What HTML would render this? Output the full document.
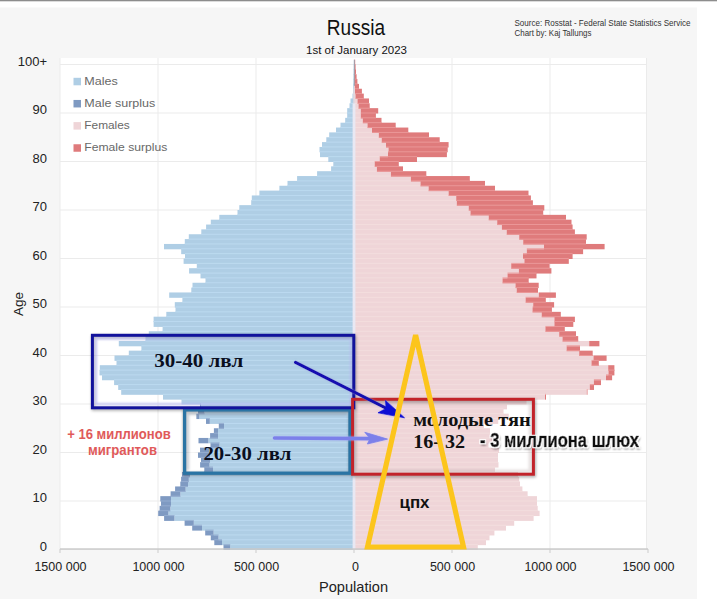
<!DOCTYPE html>
<html><head><meta charset="utf-8"><style>
html,body{margin:0;padding:0;background:#fff;width:717px;height:599px;overflow:hidden}
svg{display:block;font-family:"Liberation Sans",sans-serif}
.serif{font-family:"Liberation Serif",serif;font-weight:bold}
</style></head><body>
<svg width="717" height="599" viewBox="0 0 717 599">
<defs>
<filter id="soft" x="-10%" y="-10%" width="120%" height="130%"><feGaussianBlur stdDeviation="1.6"/></filter>
<filter id="soft2" x="-10%" y="-10%" width="120%" height="130%"><feGaussianBlur stdDeviation="1.2"/></filter>
<filter id="halo" x="-10%" y="-30%" width="120%" height="160%">
<feGaussianBlur in="SourceGraphic" stdDeviation="1.2" result="b"/>
<feColorMatrix in="b" type="matrix" values="1 0 0 0 0.3  0 1 0 0 0.3  0 0 1 0 0.3  0 0 0 0.6 0" result="c"/>
<feMerge><feMergeNode in="c"/><feMergeNode in="SourceGraphic"/></feMerge>
</filter>
<filter id="glow" x="-10%" y="-30%" width="120%" height="160%">
<feMorphology in="SourceAlpha" operator="dilate" radius="1.2" result="d"/>
<feFlood flood-color="#ffffff"/><feComposite in2="d" operator="in" result="w"/>
<feGaussianBlur in="SourceAlpha" stdDeviation="1.2" result="b"/>
<feOffset in="b" dx="1" dy="1.5" result="bo"/>
<feFlood flood-color="#000" flood-opacity="0.55"/><feComposite in2="bo" operator="in" result="s"/>
<feMerge><feMergeNode in="s"/><feMergeNode in="w"/><feMergeNode in="SourceGraphic"/></feMerge>
</filter>
</defs>
<rect x="0" y="0" width="717" height="1.3" fill="#8d8d8d"/>
<rect x="0" y="7.5" width="697" height="592" fill="#f6f6f6"/>
<rect x="60" y="58" width="587" height="491" fill="#ffffff"/>
<rect x="60" y="500.50" width="587" height="1" fill="#ebebeb"/>
<rect x="60" y="452.00" width="587" height="1" fill="#ebebeb"/>
<rect x="60" y="403.50" width="587" height="1" fill="#ebebeb"/>
<rect x="60" y="355.00" width="587" height="1" fill="#ebebeb"/>
<rect x="60" y="306.50" width="587" height="1" fill="#ebebeb"/>
<rect x="60" y="258.00" width="587" height="1" fill="#ebebeb"/>
<rect x="60" y="209.50" width="587" height="1" fill="#ebebeb"/>
<rect x="60" y="161.00" width="587" height="1" fill="#ebebeb"/>
<rect x="60" y="112.50" width="587" height="1" fill="#ebebeb"/>
<rect x="60" y="64.00" width="587" height="1" fill="#ebebeb"/>
<rect x="59.5" y="58" width="1" height="491" fill="#ebebeb"/>
<rect x="157.5" y="58" width="1" height="491" fill="#ebebeb"/>
<rect x="255.5" y="58" width="1" height="491" fill="#ebebeb"/>
<rect x="451.5" y="58" width="1" height="491" fill="#ebebeb"/>
<rect x="549.5" y="58" width="1" height="491" fill="#ebebeb"/>
<rect x="646.0" y="58" width="1" height="491" fill="#ebebeb"/>
<rect x="230.20" y="544.65" width="123.80" height="5.35" fill="#afcee5"/>
<rect x="354.00" y="544.65" width="123.80" height="5.35" fill="#efd5d8"/>
<rect x="223.50" y="544.65" width="6.70" height="5.35" fill="#7f9ac2"/>
<rect x="222.00" y="539.80" width="132.00" height="5.35" fill="#afcee5"/>
<rect x="354.00" y="539.80" width="132.00" height="5.35" fill="#efd5d8"/>
<rect x="214.30" y="539.80" width="7.70" height="5.35" fill="#7f9ac2"/>
<rect x="218.50" y="534.95" width="135.50" height="5.35" fill="#afcee5"/>
<rect x="354.00" y="534.95" width="135.50" height="5.35" fill="#efd5d8"/>
<rect x="210.80" y="534.95" width="7.70" height="5.35" fill="#7f9ac2"/>
<rect x="213.60" y="530.10" width="140.40" height="5.35" fill="#afcee5"/>
<rect x="354.00" y="530.10" width="140.40" height="5.35" fill="#efd5d8"/>
<rect x="205.20" y="530.10" width="8.40" height="5.35" fill="#7f9ac2"/>
<rect x="202.00" y="525.25" width="152.00" height="5.35" fill="#afcee5"/>
<rect x="354.00" y="525.25" width="152.00" height="5.35" fill="#efd5d8"/>
<rect x="192.20" y="525.25" width="9.80" height="5.35" fill="#7f9ac2"/>
<rect x="193.80" y="520.40" width="160.20" height="5.35" fill="#afcee5"/>
<rect x="354.00" y="520.40" width="160.20" height="5.35" fill="#efd5d8"/>
<rect x="184.60" y="520.40" width="9.20" height="5.35" fill="#7f9ac2"/>
<rect x="174.40" y="515.55" width="179.60" height="5.35" fill="#afcee5"/>
<rect x="354.00" y="515.55" width="179.60" height="5.35" fill="#efd5d8"/>
<rect x="164.10" y="515.55" width="10.30" height="5.35" fill="#7f9ac2"/>
<rect x="168.40" y="510.70" width="185.60" height="5.35" fill="#afcee5"/>
<rect x="354.00" y="510.70" width="185.60" height="5.35" fill="#efd5d8"/>
<rect x="158.20" y="510.70" width="10.20" height="5.35" fill="#7f9ac2"/>
<rect x="170.30" y="505.85" width="183.70" height="5.35" fill="#afcee5"/>
<rect x="354.00" y="505.85" width="183.70" height="5.35" fill="#efd5d8"/>
<rect x="159.60" y="505.85" width="10.70" height="5.35" fill="#7f9ac2"/>
<rect x="171.00" y="501.00" width="183.00" height="5.35" fill="#afcee5"/>
<rect x="354.00" y="501.00" width="183.00" height="5.35" fill="#efd5d8"/>
<rect x="161.00" y="501.00" width="10.00" height="5.35" fill="#7f9ac2"/>
<rect x="171.00" y="496.15" width="183.00" height="5.35" fill="#afcee5"/>
<rect x="354.00" y="496.15" width="183.00" height="5.35" fill="#efd5d8"/>
<rect x="160.30" y="496.15" width="10.70" height="5.35" fill="#7f9ac2"/>
<rect x="180.40" y="491.30" width="173.60" height="5.35" fill="#afcee5"/>
<rect x="354.00" y="491.30" width="173.60" height="5.35" fill="#efd5d8"/>
<rect x="170.60" y="491.30" width="9.80" height="5.35" fill="#7f9ac2"/>
<rect x="185.60" y="486.45" width="168.40" height="5.35" fill="#afcee5"/>
<rect x="354.00" y="486.45" width="168.40" height="5.35" fill="#efd5d8"/>
<rect x="175.10" y="486.45" width="10.50" height="5.35" fill="#7f9ac2"/>
<rect x="188.00" y="481.60" width="166.00" height="5.35" fill="#afcee5"/>
<rect x="354.00" y="481.60" width="166.00" height="5.35" fill="#efd5d8"/>
<rect x="180.30" y="481.60" width="7.70" height="5.35" fill="#7f9ac2"/>
<rect x="188.80" y="476.75" width="165.20" height="5.35" fill="#afcee5"/>
<rect x="354.00" y="476.75" width="165.20" height="5.35" fill="#efd5d8"/>
<rect x="181.10" y="476.75" width="7.70" height="5.35" fill="#7f9ac2"/>
<rect x="190.00" y="471.90" width="164.00" height="5.35" fill="#afcee5"/>
<rect x="354.00" y="471.90" width="164.00" height="5.35" fill="#efd5d8"/>
<rect x="182.00" y="471.90" width="8.00" height="5.35" fill="#7f9ac2"/>
<rect x="213.00" y="467.05" width="141.00" height="5.35" fill="#afcee5"/>
<rect x="354.00" y="467.05" width="141.00" height="5.35" fill="#efd5d8"/>
<rect x="204.30" y="467.05" width="8.70" height="5.35" fill="#7f9ac2"/>
<rect x="209.50" y="462.20" width="144.50" height="5.35" fill="#afcee5"/>
<rect x="354.00" y="462.20" width="144.50" height="5.35" fill="#efd5d8"/>
<rect x="200.10" y="462.20" width="9.40" height="5.35" fill="#7f9ac2"/>
<rect x="210.00" y="457.35" width="144.00" height="5.35" fill="#afcee5"/>
<rect x="354.00" y="457.35" width="144.00" height="5.35" fill="#efd5d8"/>
<rect x="201.00" y="457.35" width="9.00" height="5.35" fill="#7f9ac2"/>
<rect x="210.00" y="452.50" width="144.00" height="5.35" fill="#afcee5"/>
<rect x="354.00" y="452.50" width="144.00" height="5.35" fill="#efd5d8"/>
<rect x="198.00" y="452.50" width="12.00" height="5.35" fill="#7f9ac2"/>
<rect x="209.00" y="447.65" width="145.00" height="5.35" fill="#afcee5"/>
<rect x="354.00" y="447.65" width="145.00" height="5.35" fill="#efd5d8"/>
<rect x="200.00" y="447.65" width="9.00" height="5.35" fill="#7f9ac2"/>
<rect x="219.50" y="442.80" width="134.50" height="5.35" fill="#afcee5"/>
<rect x="354.00" y="442.80" width="134.50" height="5.35" fill="#efd5d8"/>
<rect x="210.50" y="442.80" width="9.00" height="5.35" fill="#7f9ac2"/>
<rect x="208.30" y="437.95" width="145.70" height="5.35" fill="#afcee5"/>
<rect x="354.00" y="437.95" width="145.70" height="5.35" fill="#efd5d8"/>
<rect x="198.50" y="437.95" width="9.80" height="5.35" fill="#7f9ac2"/>
<rect x="218.00" y="433.10" width="136.00" height="5.35" fill="#afcee5"/>
<rect x="354.00" y="433.10" width="136.00" height="5.35" fill="#efd5d8"/>
<rect x="210.10" y="433.10" width="7.90" height="5.35" fill="#7f9ac2"/>
<rect x="218.00" y="428.25" width="136.00" height="5.35" fill="#afcee5"/>
<rect x="354.00" y="428.25" width="136.00" height="5.35" fill="#efd5d8"/>
<rect x="213.90" y="428.25" width="4.10" height="5.35" fill="#7f9ac2"/>
<rect x="224.00" y="423.40" width="130.00" height="5.35" fill="#afcee5"/>
<rect x="354.00" y="423.40" width="130.00" height="5.35" fill="#efd5d8"/>
<rect x="218.80" y="423.40" width="5.20" height="5.35" fill="#7f9ac2"/>
<rect x="209.80" y="418.55" width="144.20" height="5.35" fill="#afcee5"/>
<rect x="354.00" y="418.55" width="144.20" height="5.35" fill="#efd5d8"/>
<rect x="206.00" y="418.55" width="3.80" height="5.35" fill="#7f9ac2"/>
<rect x="199.30" y="413.70" width="154.70" height="5.35" fill="#afcee5"/>
<rect x="354.00" y="413.70" width="154.70" height="5.35" fill="#efd5d8"/>
<rect x="196.30" y="413.70" width="3.00" height="5.35" fill="#7f9ac2"/>
<rect x="204.50" y="408.85" width="149.50" height="5.35" fill="#afcee5"/>
<rect x="354.00" y="408.85" width="149.50" height="5.35" fill="#efd5d8"/>
<rect x="198.00" y="408.85" width="6.50" height="5.35" fill="#7f9ac2"/>
<rect x="201.00" y="404.00" width="153.00" height="5.35" fill="#afcee5"/>
<rect x="354.00" y="404.00" width="153.00" height="5.35" fill="#efd5d8"/>
<rect x="200.00" y="404.00" width="1.00" height="5.35" fill="#7f9ac2"/>
<rect x="181.50" y="399.15" width="172.50" height="5.35" fill="#afcee5"/>
<rect x="354.00" y="399.15" width="172.50" height="5.35" fill="#efd5d8"/>
<rect x="163.00" y="394.30" width="191.00" height="5.35" fill="#afcee5"/>
<rect x="354.00" y="394.30" width="191.00" height="5.35" fill="#efd5d8"/>
<rect x="545.00" y="394.30" width="1.00" height="5.35" fill="#df7b7c"/>
<rect x="121.20" y="389.45" width="232.80" height="5.35" fill="#afcee5"/>
<rect x="354.00" y="389.45" width="232.80" height="5.35" fill="#efd5d8"/>
<rect x="586.80" y="389.45" width="0.70" height="5.35" fill="#df7b7c"/>
<rect x="118.20" y="384.60" width="235.80" height="5.35" fill="#afcee5"/>
<rect x="354.00" y="384.60" width="235.80" height="5.35" fill="#efd5d8"/>
<rect x="589.80" y="384.60" width="4.20" height="5.35" fill="#df7b7c"/>
<rect x="114.10" y="379.75" width="239.90" height="5.35" fill="#afcee5"/>
<rect x="354.00" y="379.75" width="239.90" height="5.35" fill="#efd5d8"/>
<rect x="593.90" y="379.75" width="7.10" height="5.35" fill="#df7b7c"/>
<rect x="102.00" y="374.90" width="252.00" height="5.35" fill="#afcee5"/>
<rect x="354.00" y="374.90" width="252.00" height="5.35" fill="#efd5d8"/>
<rect x="606.00" y="374.90" width="6.10" height="5.35" fill="#df7b7c"/>
<rect x="99.50" y="370.05" width="254.50" height="5.35" fill="#afcee5"/>
<rect x="354.00" y="370.05" width="254.50" height="5.35" fill="#efd5d8"/>
<rect x="608.50" y="370.05" width="5.90" height="5.35" fill="#df7b7c"/>
<rect x="99.80" y="365.20" width="254.20" height="5.35" fill="#afcee5"/>
<rect x="354.00" y="365.20" width="254.20" height="5.35" fill="#efd5d8"/>
<rect x="608.20" y="365.20" width="6.20" height="5.35" fill="#df7b7c"/>
<rect x="116.50" y="360.35" width="237.50" height="5.35" fill="#afcee5"/>
<rect x="354.00" y="360.35" width="237.50" height="5.35" fill="#efd5d8"/>
<rect x="591.50" y="360.35" width="7.30" height="5.35" fill="#df7b7c"/>
<rect x="114.50" y="355.50" width="239.50" height="5.35" fill="#afcee5"/>
<rect x="354.00" y="355.50" width="239.50" height="5.35" fill="#efd5d8"/>
<rect x="593.50" y="355.50" width="13.10" height="5.35" fill="#df7b7c"/>
<rect x="128.80" y="350.65" width="225.20" height="5.35" fill="#afcee5"/>
<rect x="354.00" y="350.65" width="225.20" height="5.35" fill="#efd5d8"/>
<rect x="579.20" y="350.65" width="13.50" height="5.35" fill="#df7b7c"/>
<rect x="141.40" y="345.80" width="212.60" height="5.35" fill="#afcee5"/>
<rect x="354.00" y="345.80" width="212.60" height="5.35" fill="#efd5d8"/>
<rect x="566.60" y="345.80" width="13.40" height="5.35" fill="#df7b7c"/>
<rect x="118.80" y="340.95" width="235.20" height="5.35" fill="#afcee5"/>
<rect x="354.00" y="340.95" width="235.20" height="5.35" fill="#efd5d8"/>
<rect x="589.20" y="340.95" width="10.20" height="5.35" fill="#df7b7c"/>
<rect x="145.50" y="336.10" width="208.50" height="5.35" fill="#afcee5"/>
<rect x="354.00" y="336.10" width="208.50" height="5.35" fill="#efd5d8"/>
<rect x="562.50" y="336.10" width="15.70" height="5.35" fill="#df7b7c"/>
<rect x="148.80" y="331.25" width="205.20" height="5.35" fill="#afcee5"/>
<rect x="354.00" y="331.25" width="205.20" height="5.35" fill="#efd5d8"/>
<rect x="559.20" y="331.25" width="16.80" height="5.35" fill="#df7b7c"/>
<rect x="162.60" y="326.40" width="191.40" height="5.35" fill="#afcee5"/>
<rect x="354.00" y="326.40" width="191.40" height="5.35" fill="#efd5d8"/>
<rect x="545.40" y="326.40" width="19.40" height="5.35" fill="#df7b7c"/>
<rect x="153.60" y="321.55" width="200.40" height="5.35" fill="#afcee5"/>
<rect x="354.00" y="321.55" width="200.40" height="5.35" fill="#efd5d8"/>
<rect x="554.40" y="321.55" width="18.90" height="5.35" fill="#df7b7c"/>
<rect x="153.60" y="316.70" width="200.40" height="5.35" fill="#afcee5"/>
<rect x="354.00" y="316.70" width="200.40" height="5.35" fill="#efd5d8"/>
<rect x="554.40" y="316.70" width="20.50" height="5.35" fill="#df7b7c"/>
<rect x="166.30" y="311.85" width="187.70" height="5.35" fill="#afcee5"/>
<rect x="354.00" y="311.85" width="187.70" height="5.35" fill="#efd5d8"/>
<rect x="541.70" y="311.85" width="19.10" height="5.35" fill="#df7b7c"/>
<rect x="175.50" y="307.00" width="178.50" height="5.35" fill="#afcee5"/>
<rect x="354.00" y="307.00" width="178.50" height="5.35" fill="#efd5d8"/>
<rect x="532.50" y="307.00" width="19.40" height="5.35" fill="#df7b7c"/>
<rect x="174.80" y="302.15" width="179.20" height="5.35" fill="#afcee5"/>
<rect x="354.00" y="302.15" width="179.20" height="5.35" fill="#efd5d8"/>
<rect x="533.20" y="302.15" width="20.90" height="5.35" fill="#df7b7c"/>
<rect x="182.40" y="297.30" width="171.60" height="5.35" fill="#afcee5"/>
<rect x="354.00" y="297.30" width="171.60" height="5.35" fill="#efd5d8"/>
<rect x="525.60" y="297.30" width="20.20" height="5.35" fill="#df7b7c"/>
<rect x="169.20" y="292.45" width="184.80" height="5.35" fill="#afcee5"/>
<rect x="354.00" y="292.45" width="184.80" height="5.35" fill="#efd5d8"/>
<rect x="538.80" y="292.45" width="17.10" height="5.35" fill="#df7b7c"/>
<rect x="191.30" y="287.60" width="162.70" height="5.35" fill="#afcee5"/>
<rect x="354.00" y="287.60" width="162.70" height="5.35" fill="#efd5d8"/>
<rect x="516.70" y="287.60" width="21.30" height="5.35" fill="#df7b7c"/>
<rect x="192.50" y="282.75" width="161.50" height="5.35" fill="#afcee5"/>
<rect x="354.00" y="282.75" width="161.50" height="5.35" fill="#efd5d8"/>
<rect x="515.50" y="282.75" width="23.20" height="5.35" fill="#df7b7c"/>
<rect x="205.50" y="277.90" width="148.50" height="5.35" fill="#afcee5"/>
<rect x="354.00" y="277.90" width="148.50" height="5.35" fill="#efd5d8"/>
<rect x="502.50" y="277.90" width="26.20" height="5.35" fill="#df7b7c"/>
<rect x="200.50" y="273.05" width="153.50" height="5.35" fill="#afcee5"/>
<rect x="354.00" y="273.05" width="153.50" height="5.35" fill="#efd5d8"/>
<rect x="507.50" y="273.05" width="29.00" height="5.35" fill="#df7b7c"/>
<rect x="189.10" y="268.20" width="164.90" height="5.35" fill="#afcee5"/>
<rect x="354.00" y="268.20" width="164.90" height="5.35" fill="#efd5d8"/>
<rect x="518.90" y="268.20" width="32.50" height="5.35" fill="#df7b7c"/>
<rect x="196.80" y="263.35" width="157.20" height="5.35" fill="#afcee5"/>
<rect x="354.00" y="263.35" width="157.20" height="5.35" fill="#efd5d8"/>
<rect x="511.20" y="263.35" width="38.40" height="5.35" fill="#df7b7c"/>
<rect x="183.60" y="258.50" width="170.40" height="5.35" fill="#afcee5"/>
<rect x="354.00" y="258.50" width="170.40" height="5.35" fill="#efd5d8"/>
<rect x="524.40" y="258.50" width="44.40" height="5.35" fill="#df7b7c"/>
<rect x="185.00" y="253.65" width="169.00" height="5.35" fill="#afcee5"/>
<rect x="354.00" y="253.65" width="169.00" height="5.35" fill="#efd5d8"/>
<rect x="523.00" y="253.65" width="49.60" height="5.35" fill="#df7b7c"/>
<rect x="181.20" y="248.80" width="172.80" height="5.35" fill="#afcee5"/>
<rect x="354.00" y="248.80" width="172.80" height="5.35" fill="#efd5d8"/>
<rect x="526.80" y="248.80" width="56.30" height="5.35" fill="#df7b7c"/>
<rect x="164.00" y="243.95" width="190.00" height="5.35" fill="#afcee5"/>
<rect x="354.00" y="243.95" width="190.00" height="5.35" fill="#efd5d8"/>
<rect x="544.00" y="243.95" width="60.60" height="5.35" fill="#df7b7c"/>
<rect x="184.80" y="239.10" width="169.20" height="5.35" fill="#afcee5"/>
<rect x="354.00" y="239.10" width="169.20" height="5.35" fill="#efd5d8"/>
<rect x="523.20" y="239.10" width="62.80" height="5.35" fill="#df7b7c"/>
<rect x="188.80" y="234.25" width="165.20" height="5.35" fill="#afcee5"/>
<rect x="354.00" y="234.25" width="165.20" height="5.35" fill="#efd5d8"/>
<rect x="519.20" y="234.25" width="67.50" height="5.35" fill="#df7b7c"/>
<rect x="201.30" y="229.40" width="152.70" height="5.35" fill="#afcee5"/>
<rect x="354.00" y="229.40" width="152.70" height="5.35" fill="#efd5d8"/>
<rect x="506.70" y="229.40" width="68.20" height="5.35" fill="#df7b7c"/>
<rect x="206.10" y="224.55" width="147.90" height="5.35" fill="#afcee5"/>
<rect x="354.00" y="224.55" width="147.90" height="5.35" fill="#efd5d8"/>
<rect x="501.90" y="224.55" width="70.70" height="5.35" fill="#df7b7c"/>
<rect x="210.80" y="219.70" width="143.20" height="5.35" fill="#afcee5"/>
<rect x="354.00" y="219.70" width="143.20" height="5.35" fill="#efd5d8"/>
<rect x="497.20" y="219.70" width="74.30" height="5.35" fill="#df7b7c"/>
<rect x="219.30" y="214.85" width="134.70" height="5.35" fill="#afcee5"/>
<rect x="354.00" y="214.85" width="134.70" height="5.35" fill="#efd5d8"/>
<rect x="488.70" y="214.85" width="77.30" height="5.35" fill="#df7b7c"/>
<rect x="237.50" y="210.00" width="116.50" height="5.35" fill="#afcee5"/>
<rect x="354.00" y="210.00" width="116.50" height="5.35" fill="#efd5d8"/>
<rect x="470.50" y="210.00" width="72.70" height="5.35" fill="#df7b7c"/>
<rect x="239.30" y="205.15" width="114.70" height="5.35" fill="#afcee5"/>
<rect x="354.00" y="205.15" width="114.70" height="5.35" fill="#efd5d8"/>
<rect x="468.70" y="205.15" width="75.60" height="5.35" fill="#df7b7c"/>
<rect x="251.20" y="200.30" width="102.80" height="5.35" fill="#afcee5"/>
<rect x="354.00" y="200.30" width="102.80" height="5.35" fill="#efd5d8"/>
<rect x="456.80" y="200.30" width="76.10" height="5.35" fill="#df7b7c"/>
<rect x="251.80" y="195.45" width="102.20" height="5.35" fill="#afcee5"/>
<rect x="354.00" y="195.45" width="102.20" height="5.35" fill="#efd5d8"/>
<rect x="456.20" y="195.45" width="74.70" height="5.35" fill="#df7b7c"/>
<rect x="259.40" y="190.60" width="94.60" height="5.35" fill="#afcee5"/>
<rect x="354.00" y="190.60" width="94.60" height="5.35" fill="#efd5d8"/>
<rect x="448.60" y="190.60" width="79.90" height="5.35" fill="#df7b7c"/>
<rect x="279.40" y="185.75" width="74.60" height="5.35" fill="#afcee5"/>
<rect x="354.00" y="185.75" width="74.60" height="5.35" fill="#efd5d8"/>
<rect x="428.60" y="185.75" width="66.40" height="5.35" fill="#df7b7c"/>
<rect x="287.50" y="180.90" width="66.50" height="5.35" fill="#afcee5"/>
<rect x="354.00" y="180.90" width="66.50" height="5.35" fill="#efd5d8"/>
<rect x="420.50" y="180.90" width="64.50" height="5.35" fill="#df7b7c"/>
<rect x="297.10" y="176.05" width="56.90" height="5.35" fill="#afcee5"/>
<rect x="354.00" y="176.05" width="56.90" height="5.35" fill="#efd5d8"/>
<rect x="410.90" y="176.05" width="58.90" height="5.35" fill="#df7b7c"/>
<rect x="317.10" y="171.20" width="36.90" height="5.35" fill="#afcee5"/>
<rect x="354.00" y="171.20" width="36.90" height="5.35" fill="#efd5d8"/>
<rect x="390.90" y="171.20" width="35.40" height="5.35" fill="#df7b7c"/>
<rect x="331.10" y="166.35" width="22.90" height="5.35" fill="#afcee5"/>
<rect x="354.00" y="166.35" width="22.90" height="5.35" fill="#efd5d8"/>
<rect x="376.90" y="166.35" width="26.10" height="5.35" fill="#df7b7c"/>
<rect x="333.30" y="161.50" width="20.70" height="5.35" fill="#afcee5"/>
<rect x="354.00" y="161.50" width="20.70" height="5.35" fill="#efd5d8"/>
<rect x="374.70" y="161.50" width="24.10" height="5.35" fill="#df7b7c"/>
<rect x="328.30" y="156.65" width="25.70" height="5.35" fill="#afcee5"/>
<rect x="354.00" y="156.65" width="25.70" height="5.35" fill="#efd5d8"/>
<rect x="379.70" y="156.65" width="37.30" height="5.35" fill="#df7b7c"/>
<rect x="320.00" y="151.80" width="34.00" height="5.35" fill="#afcee5"/>
<rect x="354.00" y="151.80" width="34.00" height="5.35" fill="#efd5d8"/>
<rect x="388.00" y="151.80" width="58.90" height="5.35" fill="#df7b7c"/>
<rect x="319.50" y="146.95" width="34.50" height="5.35" fill="#afcee5"/>
<rect x="354.00" y="146.95" width="34.50" height="5.35" fill="#efd5d8"/>
<rect x="388.50" y="146.95" width="59.20" height="5.35" fill="#df7b7c"/>
<rect x="322.00" y="142.10" width="32.00" height="5.35" fill="#afcee5"/>
<rect x="354.00" y="142.10" width="32.00" height="5.35" fill="#efd5d8"/>
<rect x="386.00" y="142.10" width="62.60" height="5.35" fill="#df7b7c"/>
<rect x="326.30" y="137.25" width="27.70" height="5.35" fill="#afcee5"/>
<rect x="354.00" y="137.25" width="27.70" height="5.35" fill="#efd5d8"/>
<rect x="381.70" y="137.25" width="58.00" height="5.35" fill="#df7b7c"/>
<rect x="329.20" y="132.40" width="24.80" height="5.35" fill="#afcee5"/>
<rect x="354.00" y="132.40" width="24.80" height="5.35" fill="#efd5d8"/>
<rect x="378.80" y="132.40" width="50.20" height="5.35" fill="#df7b7c"/>
<rect x="336.00" y="127.55" width="18.00" height="5.35" fill="#afcee5"/>
<rect x="354.00" y="127.55" width="18.00" height="5.35" fill="#efd5d8"/>
<rect x="372.00" y="127.55" width="36.30" height="5.35" fill="#df7b7c"/>
<rect x="340.50" y="122.70" width="13.50" height="5.35" fill="#afcee5"/>
<rect x="354.00" y="122.70" width="13.50" height="5.35" fill="#efd5d8"/>
<rect x="367.50" y="122.70" width="28.20" height="5.35" fill="#df7b7c"/>
<rect x="345.20" y="117.85" width="8.80" height="5.35" fill="#afcee5"/>
<rect x="354.00" y="117.85" width="8.80" height="5.35" fill="#efd5d8"/>
<rect x="362.80" y="117.85" width="18.70" height="5.35" fill="#df7b7c"/>
<rect x="347.20" y="113.00" width="6.80" height="5.35" fill="#afcee5"/>
<rect x="354.00" y="113.00" width="6.80" height="5.35" fill="#efd5d8"/>
<rect x="360.80" y="113.00" width="15.10" height="5.35" fill="#df7b7c"/>
<rect x="347.20" y="108.15" width="6.80" height="5.35" fill="#afcee5"/>
<rect x="354.00" y="108.15" width="6.80" height="5.35" fill="#efd5d8"/>
<rect x="360.80" y="108.15" width="17.40" height="5.35" fill="#df7b7c"/>
<rect x="349.50" y="103.30" width="4.50" height="5.35" fill="#afcee5"/>
<rect x="354.00" y="103.30" width="4.50" height="5.35" fill="#efd5d8"/>
<rect x="358.50" y="103.30" width="11.20" height="5.35" fill="#df7b7c"/>
<rect x="350.50" y="98.45" width="3.50" height="5.35" fill="#afcee5"/>
<rect x="354.00" y="98.45" width="3.50" height="5.35" fill="#efd5d8"/>
<rect x="357.50" y="98.45" width="11.50" height="5.35" fill="#df7b7c"/>
<rect x="352.50" y="93.60" width="1.50" height="5.35" fill="#afcee5"/>
<rect x="354.00" y="93.60" width="1.50" height="5.35" fill="#efd5d8"/>
<rect x="355.50" y="93.60" width="8.30" height="5.35" fill="#df7b7c"/>
<rect x="353.00" y="88.75" width="1.00" height="5.35" fill="#afcee5"/>
<rect x="354.00" y="88.75" width="1.00" height="5.35" fill="#efd5d8"/>
<rect x="355.00" y="88.75" width="6.90" height="5.35" fill="#df7b7c"/>
<rect x="353.20" y="83.90" width="0.80" height="5.35" fill="#afcee5"/>
<rect x="354.00" y="83.90" width="0.80" height="5.35" fill="#efd5d8"/>
<rect x="354.80" y="83.90" width="4.20" height="5.35" fill="#df7b7c"/>
<rect x="353.40" y="79.05" width="0.60" height="5.35" fill="#afcee5"/>
<rect x="354.00" y="79.05" width="0.60" height="5.35" fill="#efd5d8"/>
<rect x="354.60" y="79.05" width="2.80" height="5.35" fill="#df7b7c"/>
<rect x="353.50" y="74.20" width="0.50" height="5.35" fill="#afcee5"/>
<rect x="354.00" y="74.20" width="0.50" height="5.35" fill="#efd5d8"/>
<rect x="354.50" y="74.20" width="2.10" height="5.35" fill="#df7b7c"/>
<rect x="353.60" y="69.35" width="0.40" height="5.35" fill="#afcee5"/>
<rect x="354.00" y="69.35" width="0.40" height="5.35" fill="#efd5d8"/>
<rect x="354.40" y="69.35" width="1.60" height="5.35" fill="#df7b7c"/>
<rect x="353.70" y="64.50" width="0.30" height="5.35" fill="#afcee5"/>
<rect x="354.00" y="64.50" width="0.30" height="5.35" fill="#efd5d8"/>
<rect x="354.30" y="64.50" width="1.30" height="5.35" fill="#df7b7c"/>
<rect x="353.80" y="59.65" width="0.20" height="5.35" fill="#afcee5"/>
<rect x="354.00" y="59.65" width="0.20" height="5.35" fill="#efd5d8"/>
<rect x="354.20" y="59.65" width="1.00" height="5.35" fill="#df7b7c"/>
<rect x="230.20" y="544.20" width="123.80" height="0.9" fill="#bddbf1"/>
<rect x="354.00" y="544.20" width="123.80" height="0.9" fill="#f3dede"/>
<rect x="223.50" y="544.20" width="6.70" height="0.9" fill="#97afd2"/>
<rect x="222.00" y="539.35" width="132.00" height="0.9" fill="#bddbf1"/>
<rect x="354.00" y="539.35" width="132.00" height="0.9" fill="#f3dede"/>
<rect x="214.30" y="539.35" width="7.70" height="0.9" fill="#97afd2"/>
<rect x="218.50" y="534.50" width="135.50" height="0.9" fill="#bddbf1"/>
<rect x="354.00" y="534.50" width="135.50" height="0.9" fill="#f3dede"/>
<rect x="210.80" y="534.50" width="7.70" height="0.9" fill="#97afd2"/>
<rect x="213.60" y="529.65" width="140.40" height="0.9" fill="#bddbf1"/>
<rect x="354.00" y="529.65" width="140.40" height="0.9" fill="#f3dede"/>
<rect x="205.20" y="529.65" width="8.40" height="0.9" fill="#97afd2"/>
<rect x="202.00" y="524.80" width="152.00" height="0.9" fill="#bddbf1"/>
<rect x="354.00" y="524.80" width="152.00" height="0.9" fill="#f3dede"/>
<rect x="192.20" y="524.80" width="9.80" height="0.9" fill="#97afd2"/>
<rect x="193.80" y="519.95" width="160.20" height="0.9" fill="#bddbf1"/>
<rect x="354.00" y="519.95" width="160.20" height="0.9" fill="#f3dede"/>
<rect x="184.60" y="519.95" width="9.20" height="0.9" fill="#97afd2"/>
<rect x="174.40" y="515.10" width="179.60" height="0.9" fill="#bddbf1"/>
<rect x="354.00" y="515.10" width="179.60" height="0.9" fill="#f3dede"/>
<rect x="164.10" y="515.10" width="10.30" height="0.9" fill="#97afd2"/>
<rect x="170.30" y="510.25" width="183.70" height="0.9" fill="#bddbf1"/>
<rect x="354.00" y="510.25" width="183.70" height="0.9" fill="#f3dede"/>
<rect x="159.60" y="510.25" width="10.70" height="0.9" fill="#97afd2"/>
<rect x="171.00" y="505.40" width="183.00" height="0.9" fill="#bddbf1"/>
<rect x="354.00" y="505.40" width="183.00" height="0.9" fill="#f3dede"/>
<rect x="161.00" y="505.40" width="10.00" height="0.9" fill="#97afd2"/>
<rect x="171.00" y="500.55" width="183.00" height="0.9" fill="#bddbf1"/>
<rect x="354.00" y="500.55" width="183.00" height="0.9" fill="#f3dede"/>
<rect x="161.00" y="500.55" width="10.00" height="0.9" fill="#97afd2"/>
<rect x="180.40" y="495.70" width="173.60" height="0.9" fill="#bddbf1"/>
<rect x="354.00" y="495.70" width="173.60" height="0.9" fill="#f3dede"/>
<rect x="170.60" y="495.70" width="9.80" height="0.9" fill="#97afd2"/>
<rect x="185.60" y="490.85" width="168.40" height="0.9" fill="#bddbf1"/>
<rect x="354.00" y="490.85" width="168.40" height="0.9" fill="#f3dede"/>
<rect x="175.10" y="490.85" width="10.50" height="0.9" fill="#97afd2"/>
<rect x="188.00" y="486.00" width="166.00" height="0.9" fill="#bddbf1"/>
<rect x="354.00" y="486.00" width="166.00" height="0.9" fill="#f3dede"/>
<rect x="180.30" y="486.00" width="7.70" height="0.9" fill="#97afd2"/>
<rect x="188.80" y="481.15" width="165.20" height="0.9" fill="#bddbf1"/>
<rect x="354.00" y="481.15" width="165.20" height="0.9" fill="#f3dede"/>
<rect x="181.10" y="481.15" width="7.70" height="0.9" fill="#97afd2"/>
<rect x="190.00" y="476.30" width="164.00" height="0.9" fill="#bddbf1"/>
<rect x="354.00" y="476.30" width="164.00" height="0.9" fill="#f3dede"/>
<rect x="182.00" y="476.30" width="8.00" height="0.9" fill="#97afd2"/>
<rect x="213.00" y="471.45" width="141.00" height="0.9" fill="#bddbf1"/>
<rect x="354.00" y="471.45" width="141.00" height="0.9" fill="#f3dede"/>
<rect x="204.30" y="471.45" width="8.70" height="0.9" fill="#97afd2"/>
<rect x="213.00" y="466.60" width="141.00" height="0.9" fill="#bddbf1"/>
<rect x="354.00" y="466.60" width="141.00" height="0.9" fill="#f3dede"/>
<rect x="204.30" y="466.60" width="8.70" height="0.9" fill="#97afd2"/>
<rect x="210.00" y="461.75" width="144.00" height="0.9" fill="#bddbf1"/>
<rect x="354.00" y="461.75" width="144.00" height="0.9" fill="#f3dede"/>
<rect x="201.00" y="461.75" width="9.00" height="0.9" fill="#97afd2"/>
<rect x="210.00" y="456.90" width="144.00" height="0.9" fill="#bddbf1"/>
<rect x="354.00" y="456.90" width="144.00" height="0.9" fill="#f3dede"/>
<rect x="201.00" y="456.90" width="9.00" height="0.9" fill="#97afd2"/>
<rect x="210.00" y="452.05" width="144.00" height="0.9" fill="#bddbf1"/>
<rect x="354.00" y="452.05" width="144.00" height="0.9" fill="#f3dede"/>
<rect x="200.00" y="452.05" width="10.00" height="0.9" fill="#97afd2"/>
<rect x="219.50" y="447.20" width="134.50" height="0.9" fill="#bddbf1"/>
<rect x="354.00" y="447.20" width="134.50" height="0.9" fill="#f3dede"/>
<rect x="210.50" y="447.20" width="9.00" height="0.9" fill="#97afd2"/>
<rect x="219.50" y="442.35" width="134.50" height="0.9" fill="#bddbf1"/>
<rect x="354.00" y="442.35" width="134.50" height="0.9" fill="#f3dede"/>
<rect x="210.50" y="442.35" width="9.00" height="0.9" fill="#97afd2"/>
<rect x="218.00" y="437.50" width="136.00" height="0.9" fill="#bddbf1"/>
<rect x="354.00" y="437.50" width="136.00" height="0.9" fill="#f3dede"/>
<rect x="210.10" y="437.50" width="7.90" height="0.9" fill="#97afd2"/>
<rect x="218.00" y="432.65" width="136.00" height="0.9" fill="#bddbf1"/>
<rect x="354.00" y="432.65" width="136.00" height="0.9" fill="#f3dede"/>
<rect x="213.90" y="432.65" width="4.10" height="0.9" fill="#97afd2"/>
<rect x="224.00" y="427.80" width="130.00" height="0.9" fill="#bddbf1"/>
<rect x="354.00" y="427.80" width="130.00" height="0.9" fill="#f3dede"/>
<rect x="218.80" y="427.80" width="5.20" height="0.9" fill="#97afd2"/>
<rect x="224.00" y="422.95" width="130.00" height="0.9" fill="#bddbf1"/>
<rect x="354.00" y="422.95" width="130.00" height="0.9" fill="#f3dede"/>
<rect x="218.80" y="422.95" width="5.20" height="0.9" fill="#97afd2"/>
<rect x="209.80" y="418.10" width="144.20" height="0.9" fill="#bddbf1"/>
<rect x="354.00" y="418.10" width="144.20" height="0.9" fill="#f3dede"/>
<rect x="206.00" y="418.10" width="3.80" height="0.9" fill="#97afd2"/>
<rect x="204.50" y="413.25" width="149.50" height="0.9" fill="#bddbf1"/>
<rect x="354.00" y="413.25" width="149.50" height="0.9" fill="#f3dede"/>
<rect x="198.00" y="413.25" width="6.50" height="0.9" fill="#97afd2"/>
<rect x="204.50" y="408.40" width="149.50" height="0.9" fill="#bddbf1"/>
<rect x="354.00" y="408.40" width="149.50" height="0.9" fill="#f3dede"/>
<rect x="200.00" y="408.40" width="4.50" height="0.9" fill="#97afd2"/>
<rect x="201.00" y="403.55" width="153.00" height="0.9" fill="#bddbf1"/>
<rect x="354.00" y="403.55" width="153.00" height="0.9" fill="#f3dede"/>
<rect x="200.00" y="403.55" width="1.00" height="0.9" fill="#97afd2"/>
<rect x="181.50" y="398.70" width="172.50" height="0.9" fill="#bddbf1"/>
<rect x="354.00" y="398.70" width="172.50" height="0.9" fill="#f3dede"/>
<rect x="163.00" y="393.85" width="191.00" height="0.9" fill="#bddbf1"/>
<rect x="354.00" y="393.85" width="191.00" height="0.9" fill="#f3dede"/>
<rect x="545.00" y="393.85" width="1.00" height="0.9" fill="#ec9a9a"/>
<rect x="121.20" y="389.00" width="232.80" height="0.9" fill="#bddbf1"/>
<rect x="354.00" y="389.00" width="232.80" height="0.9" fill="#f3dede"/>
<rect x="586.80" y="389.00" width="0.70" height="0.9" fill="#ec9a9a"/>
<rect x="118.20" y="384.15" width="235.80" height="0.9" fill="#bddbf1"/>
<rect x="354.00" y="384.15" width="235.80" height="0.9" fill="#f3dede"/>
<rect x="589.80" y="384.15" width="4.20" height="0.9" fill="#ec9a9a"/>
<rect x="114.10" y="379.30" width="239.90" height="0.9" fill="#bddbf1"/>
<rect x="354.00" y="379.30" width="239.90" height="0.9" fill="#f3dede"/>
<rect x="593.90" y="379.30" width="7.10" height="0.9" fill="#ec9a9a"/>
<rect x="102.00" y="374.45" width="252.00" height="0.9" fill="#bddbf1"/>
<rect x="354.00" y="374.45" width="252.00" height="0.9" fill="#f3dede"/>
<rect x="606.00" y="374.45" width="6.10" height="0.9" fill="#ec9a9a"/>
<rect x="99.80" y="369.60" width="254.20" height="0.9" fill="#bddbf1"/>
<rect x="354.00" y="369.60" width="254.20" height="0.9" fill="#f3dede"/>
<rect x="608.20" y="369.60" width="6.20" height="0.9" fill="#ec9a9a"/>
<rect x="116.50" y="364.75" width="237.50" height="0.9" fill="#bddbf1"/>
<rect x="354.00" y="364.75" width="237.50" height="0.9" fill="#f3dede"/>
<rect x="591.50" y="364.75" width="7.30" height="0.9" fill="#ec9a9a"/>
<rect x="116.50" y="359.90" width="237.50" height="0.9" fill="#bddbf1"/>
<rect x="354.00" y="359.90" width="237.50" height="0.9" fill="#f3dede"/>
<rect x="591.50" y="359.90" width="7.30" height="0.9" fill="#ec9a9a"/>
<rect x="128.80" y="355.05" width="225.20" height="0.9" fill="#bddbf1"/>
<rect x="354.00" y="355.05" width="225.20" height="0.9" fill="#f3dede"/>
<rect x="579.20" y="355.05" width="13.50" height="0.9" fill="#ec9a9a"/>
<rect x="141.40" y="350.20" width="212.60" height="0.9" fill="#bddbf1"/>
<rect x="354.00" y="350.20" width="212.60" height="0.9" fill="#f3dede"/>
<rect x="566.60" y="350.20" width="13.40" height="0.9" fill="#ec9a9a"/>
<rect x="141.40" y="345.35" width="212.60" height="0.9" fill="#bddbf1"/>
<rect x="354.00" y="345.35" width="212.60" height="0.9" fill="#f3dede"/>
<rect x="566.60" y="345.35" width="13.40" height="0.9" fill="#ec9a9a"/>
<rect x="145.50" y="340.50" width="208.50" height="0.9" fill="#bddbf1"/>
<rect x="354.00" y="340.50" width="208.50" height="0.9" fill="#f3dede"/>
<rect x="562.50" y="340.50" width="15.70" height="0.9" fill="#ec9a9a"/>
<rect x="148.80" y="335.65" width="205.20" height="0.9" fill="#bddbf1"/>
<rect x="354.00" y="335.65" width="205.20" height="0.9" fill="#f3dede"/>
<rect x="559.20" y="335.65" width="16.80" height="0.9" fill="#ec9a9a"/>
<rect x="162.60" y="330.80" width="191.40" height="0.9" fill="#bddbf1"/>
<rect x="354.00" y="330.80" width="191.40" height="0.9" fill="#f3dede"/>
<rect x="545.40" y="330.80" width="19.40" height="0.9" fill="#ec9a9a"/>
<rect x="162.60" y="325.95" width="191.40" height="0.9" fill="#bddbf1"/>
<rect x="354.00" y="325.95" width="191.40" height="0.9" fill="#f3dede"/>
<rect x="545.40" y="325.95" width="19.40" height="0.9" fill="#ec9a9a"/>
<rect x="153.60" y="321.10" width="200.40" height="0.9" fill="#bddbf1"/>
<rect x="354.00" y="321.10" width="200.40" height="0.9" fill="#f3dede"/>
<rect x="554.40" y="321.10" width="18.90" height="0.9" fill="#ec9a9a"/>
<rect x="166.30" y="316.25" width="187.70" height="0.9" fill="#bddbf1"/>
<rect x="354.00" y="316.25" width="187.70" height="0.9" fill="#f3dede"/>
<rect x="541.70" y="316.25" width="19.10" height="0.9" fill="#ec9a9a"/>
<rect x="175.50" y="311.40" width="178.50" height="0.9" fill="#bddbf1"/>
<rect x="354.00" y="311.40" width="178.50" height="0.9" fill="#f3dede"/>
<rect x="532.50" y="311.40" width="19.40" height="0.9" fill="#ec9a9a"/>
<rect x="175.50" y="306.55" width="178.50" height="0.9" fill="#bddbf1"/>
<rect x="354.00" y="306.55" width="178.50" height="0.9" fill="#f3dede"/>
<rect x="532.50" y="306.55" width="19.40" height="0.9" fill="#ec9a9a"/>
<rect x="182.40" y="301.70" width="171.60" height="0.9" fill="#bddbf1"/>
<rect x="354.00" y="301.70" width="171.60" height="0.9" fill="#f3dede"/>
<rect x="525.60" y="301.70" width="20.20" height="0.9" fill="#ec9a9a"/>
<rect x="182.40" y="296.85" width="171.60" height="0.9" fill="#bddbf1"/>
<rect x="354.00" y="296.85" width="171.60" height="0.9" fill="#f3dede"/>
<rect x="525.60" y="296.85" width="20.20" height="0.9" fill="#ec9a9a"/>
<rect x="191.30" y="292.00" width="162.70" height="0.9" fill="#bddbf1"/>
<rect x="354.00" y="292.00" width="162.70" height="0.9" fill="#f3dede"/>
<rect x="516.70" y="292.00" width="21.30" height="0.9" fill="#ec9a9a"/>
<rect x="192.50" y="287.15" width="161.50" height="0.9" fill="#bddbf1"/>
<rect x="354.00" y="287.15" width="161.50" height="0.9" fill="#f3dede"/>
<rect x="515.50" y="287.15" width="22.50" height="0.9" fill="#ec9a9a"/>
<rect x="205.50" y="282.30" width="148.50" height="0.9" fill="#bddbf1"/>
<rect x="354.00" y="282.30" width="148.50" height="0.9" fill="#f3dede"/>
<rect x="502.50" y="282.30" width="26.20" height="0.9" fill="#ec9a9a"/>
<rect x="205.50" y="277.45" width="148.50" height="0.9" fill="#bddbf1"/>
<rect x="354.00" y="277.45" width="148.50" height="0.9" fill="#f3dede"/>
<rect x="502.50" y="277.45" width="26.20" height="0.9" fill="#ec9a9a"/>
<rect x="200.50" y="272.60" width="153.50" height="0.9" fill="#bddbf1"/>
<rect x="354.00" y="272.60" width="153.50" height="0.9" fill="#f3dede"/>
<rect x="507.50" y="272.60" width="29.00" height="0.9" fill="#ec9a9a"/>
<rect x="196.80" y="267.75" width="157.20" height="0.9" fill="#bddbf1"/>
<rect x="354.00" y="267.75" width="157.20" height="0.9" fill="#f3dede"/>
<rect x="511.20" y="267.75" width="38.40" height="0.9" fill="#ec9a9a"/>
<rect x="196.80" y="262.90" width="157.20" height="0.9" fill="#bddbf1"/>
<rect x="354.00" y="262.90" width="157.20" height="0.9" fill="#f3dede"/>
<rect x="511.20" y="262.90" width="38.40" height="0.9" fill="#ec9a9a"/>
<rect x="185.00" y="258.05" width="169.00" height="0.9" fill="#bddbf1"/>
<rect x="354.00" y="258.05" width="169.00" height="0.9" fill="#f3dede"/>
<rect x="523.00" y="258.05" width="45.80" height="0.9" fill="#ec9a9a"/>
<rect x="185.00" y="253.20" width="169.00" height="0.9" fill="#bddbf1"/>
<rect x="354.00" y="253.20" width="169.00" height="0.9" fill="#f3dede"/>
<rect x="523.00" y="253.20" width="49.60" height="0.9" fill="#ec9a9a"/>
<rect x="181.20" y="248.35" width="172.80" height="0.9" fill="#bddbf1"/>
<rect x="354.00" y="248.35" width="172.80" height="0.9" fill="#f3dede"/>
<rect x="526.80" y="248.35" width="56.30" height="0.9" fill="#ec9a9a"/>
<rect x="184.80" y="243.50" width="169.20" height="0.9" fill="#bddbf1"/>
<rect x="354.00" y="243.50" width="169.20" height="0.9" fill="#f3dede"/>
<rect x="523.20" y="243.50" width="62.80" height="0.9" fill="#ec9a9a"/>
<rect x="188.80" y="238.65" width="165.20" height="0.9" fill="#bddbf1"/>
<rect x="354.00" y="238.65" width="165.20" height="0.9" fill="#f3dede"/>
<rect x="519.20" y="238.65" width="66.80" height="0.9" fill="#ec9a9a"/>
<rect x="201.30" y="233.80" width="152.70" height="0.9" fill="#bddbf1"/>
<rect x="354.00" y="233.80" width="152.70" height="0.9" fill="#f3dede"/>
<rect x="506.70" y="233.80" width="68.20" height="0.9" fill="#ec9a9a"/>
<rect x="206.10" y="228.95" width="147.90" height="0.9" fill="#bddbf1"/>
<rect x="354.00" y="228.95" width="147.90" height="0.9" fill="#f3dede"/>
<rect x="501.90" y="228.95" width="70.70" height="0.9" fill="#ec9a9a"/>
<rect x="210.80" y="224.10" width="143.20" height="0.9" fill="#bddbf1"/>
<rect x="354.00" y="224.10" width="143.20" height="0.9" fill="#f3dede"/>
<rect x="497.20" y="224.10" width="74.30" height="0.9" fill="#ec9a9a"/>
<rect x="219.30" y="219.25" width="134.70" height="0.9" fill="#bddbf1"/>
<rect x="354.00" y="219.25" width="134.70" height="0.9" fill="#f3dede"/>
<rect x="488.70" y="219.25" width="77.30" height="0.9" fill="#ec9a9a"/>
<rect x="237.50" y="214.40" width="116.50" height="0.9" fill="#bddbf1"/>
<rect x="354.00" y="214.40" width="116.50" height="0.9" fill="#f3dede"/>
<rect x="470.50" y="214.40" width="72.70" height="0.9" fill="#ec9a9a"/>
<rect x="239.30" y="209.55" width="114.70" height="0.9" fill="#bddbf1"/>
<rect x="354.00" y="209.55" width="114.70" height="0.9" fill="#f3dede"/>
<rect x="468.70" y="209.55" width="74.50" height="0.9" fill="#ec9a9a"/>
<rect x="251.20" y="204.70" width="102.80" height="0.9" fill="#bddbf1"/>
<rect x="354.00" y="204.70" width="102.80" height="0.9" fill="#f3dede"/>
<rect x="456.80" y="204.70" width="76.10" height="0.9" fill="#ec9a9a"/>
<rect x="251.80" y="199.85" width="102.20" height="0.9" fill="#bddbf1"/>
<rect x="354.00" y="199.85" width="102.20" height="0.9" fill="#f3dede"/>
<rect x="456.20" y="199.85" width="74.70" height="0.9" fill="#ec9a9a"/>
<rect x="259.40" y="195.00" width="94.60" height="0.9" fill="#bddbf1"/>
<rect x="354.00" y="195.00" width="94.60" height="0.9" fill="#f3dede"/>
<rect x="448.60" y="195.00" width="79.90" height="0.9" fill="#ec9a9a"/>
<rect x="279.40" y="190.15" width="74.60" height="0.9" fill="#bddbf1"/>
<rect x="354.00" y="190.15" width="74.60" height="0.9" fill="#f3dede"/>
<rect x="428.60" y="190.15" width="66.40" height="0.9" fill="#ec9a9a"/>
<rect x="287.50" y="185.30" width="66.50" height="0.9" fill="#bddbf1"/>
<rect x="354.00" y="185.30" width="66.50" height="0.9" fill="#f3dede"/>
<rect x="420.50" y="185.30" width="64.50" height="0.9" fill="#ec9a9a"/>
<rect x="297.10" y="180.45" width="56.90" height="0.9" fill="#bddbf1"/>
<rect x="354.00" y="180.45" width="56.90" height="0.9" fill="#f3dede"/>
<rect x="410.90" y="180.45" width="58.90" height="0.9" fill="#ec9a9a"/>
<rect x="317.10" y="175.60" width="36.90" height="0.9" fill="#bddbf1"/>
<rect x="354.00" y="175.60" width="36.90" height="0.9" fill="#f3dede"/>
<rect x="390.90" y="175.60" width="35.40" height="0.9" fill="#ec9a9a"/>
<rect x="331.10" y="170.75" width="22.90" height="0.9" fill="#bddbf1"/>
<rect x="354.00" y="170.75" width="22.90" height="0.9" fill="#f3dede"/>
<rect x="376.90" y="170.75" width="26.10" height="0.9" fill="#ec9a9a"/>
<rect x="333.30" y="165.90" width="20.70" height="0.9" fill="#bddbf1"/>
<rect x="354.00" y="165.90" width="20.70" height="0.9" fill="#f3dede"/>
<rect x="374.70" y="165.90" width="24.10" height="0.9" fill="#ec9a9a"/>
<rect x="333.30" y="161.05" width="20.70" height="0.9" fill="#bddbf1"/>
<rect x="354.00" y="161.05" width="20.70" height="0.9" fill="#f3dede"/>
<rect x="374.70" y="161.05" width="24.10" height="0.9" fill="#ec9a9a"/>
<rect x="328.30" y="156.20" width="25.70" height="0.9" fill="#bddbf1"/>
<rect x="354.00" y="156.20" width="25.70" height="0.9" fill="#f3dede"/>
<rect x="379.70" y="156.20" width="37.30" height="0.9" fill="#ec9a9a"/>
<rect x="320.00" y="151.35" width="34.00" height="0.9" fill="#bddbf1"/>
<rect x="354.00" y="151.35" width="34.00" height="0.9" fill="#f3dede"/>
<rect x="388.00" y="151.35" width="58.90" height="0.9" fill="#ec9a9a"/>
<rect x="322.00" y="146.50" width="32.00" height="0.9" fill="#bddbf1"/>
<rect x="354.00" y="146.50" width="32.00" height="0.9" fill="#f3dede"/>
<rect x="386.00" y="146.50" width="61.70" height="0.9" fill="#ec9a9a"/>
<rect x="326.30" y="141.65" width="27.70" height="0.9" fill="#bddbf1"/>
<rect x="354.00" y="141.65" width="27.70" height="0.9" fill="#f3dede"/>
<rect x="381.70" y="141.65" width="58.00" height="0.9" fill="#ec9a9a"/>
<rect x="329.20" y="136.80" width="24.80" height="0.9" fill="#bddbf1"/>
<rect x="354.00" y="136.80" width="24.80" height="0.9" fill="#f3dede"/>
<rect x="378.80" y="136.80" width="50.20" height="0.9" fill="#ec9a9a"/>
<rect x="336.00" y="131.95" width="18.00" height="0.9" fill="#bddbf1"/>
<rect x="354.00" y="131.95" width="18.00" height="0.9" fill="#f3dede"/>
<rect x="372.00" y="131.95" width="36.30" height="0.9" fill="#ec9a9a"/>
<rect x="340.50" y="127.10" width="13.50" height="0.9" fill="#bddbf1"/>
<rect x="354.00" y="127.10" width="13.50" height="0.9" fill="#f3dede"/>
<rect x="367.50" y="127.10" width="28.20" height="0.9" fill="#ec9a9a"/>
<rect x="345.20" y="122.25" width="8.80" height="0.9" fill="#bddbf1"/>
<rect x="354.00" y="122.25" width="8.80" height="0.9" fill="#f3dede"/>
<rect x="362.80" y="122.25" width="18.70" height="0.9" fill="#ec9a9a"/>
<rect x="347.20" y="117.40" width="6.80" height="0.9" fill="#bddbf1"/>
<rect x="354.00" y="117.40" width="6.80" height="0.9" fill="#f3dede"/>
<rect x="360.80" y="117.40" width="15.10" height="0.9" fill="#ec9a9a"/>
<rect x="347.20" y="112.55" width="6.80" height="0.9" fill="#bddbf1"/>
<rect x="354.00" y="112.55" width="6.80" height="0.9" fill="#f3dede"/>
<rect x="360.80" y="112.55" width="15.10" height="0.9" fill="#ec9a9a"/>
<rect x="349.50" y="107.70" width="4.50" height="0.9" fill="#bddbf1"/>
<rect x="354.00" y="107.70" width="4.50" height="0.9" fill="#f3dede"/>
<rect x="358.50" y="107.70" width="11.20" height="0.9" fill="#ec9a9a"/>
<rect x="350.50" y="102.85" width="3.50" height="0.9" fill="#bddbf1"/>
<rect x="354.00" y="102.85" width="3.50" height="0.9" fill="#f3dede"/>
<rect x="357.50" y="102.85" width="11.50" height="0.9" fill="#ec9a9a"/>
<rect x="352.50" y="98.00" width="1.50" height="0.9" fill="#bddbf1"/>
<rect x="354.00" y="98.00" width="1.50" height="0.9" fill="#f3dede"/>
<rect x="355.50" y="98.00" width="8.30" height="0.9" fill="#ec9a9a"/>
<rect x="353.00" y="93.15" width="1.00" height="0.9" fill="#bddbf1"/>
<rect x="354.00" y="93.15" width="1.00" height="0.9" fill="#f3dede"/>
<rect x="355.00" y="93.15" width="6.90" height="0.9" fill="#ec9a9a"/>
<rect x="353.20" y="88.30" width="0.80" height="0.9" fill="#bddbf1"/>
<rect x="354.00" y="88.30" width="0.80" height="0.9" fill="#f3dede"/>
<rect x="354.80" y="88.30" width="4.20" height="0.9" fill="#ec9a9a"/>
<rect x="353.40" y="83.45" width="0.60" height="0.9" fill="#bddbf1"/>
<rect x="354.00" y="83.45" width="0.60" height="0.9" fill="#f3dede"/>
<rect x="354.60" y="83.45" width="2.80" height="0.9" fill="#ec9a9a"/>
<rect x="353.50" y="78.60" width="0.50" height="0.9" fill="#bddbf1"/>
<rect x="354.00" y="78.60" width="0.50" height="0.9" fill="#f3dede"/>
<rect x="354.50" y="78.60" width="2.10" height="0.9" fill="#ec9a9a"/>
<rect x="353.60" y="73.75" width="0.40" height="0.9" fill="#bddbf1"/>
<rect x="354.00" y="73.75" width="0.40" height="0.9" fill="#f3dede"/>
<rect x="354.40" y="73.75" width="1.60" height="0.9" fill="#ec9a9a"/>
<rect x="353.70" y="68.90" width="0.30" height="0.9" fill="#bddbf1"/>
<rect x="354.00" y="68.90" width="0.30" height="0.9" fill="#f3dede"/>
<rect x="354.30" y="68.90" width="1.30" height="0.9" fill="#ec9a9a"/>
<rect x="353.80" y="64.05" width="0.20" height="0.9" fill="#bddbf1"/>
<rect x="354.00" y="64.05" width="0.20" height="0.9" fill="#f3dede"/>
<rect x="354.20" y="64.05" width="1.00" height="0.9" fill="#ec9a9a"/>
<rect x="352.6" y="103.30" width="2.8" height="446.20" fill="#e9e8f3"/>
<rect x="353.2" y="88.75" width="1.6" height="14.55" fill="#e0d6de"/>
<rect x="353.9" y="59.8" width="1.1" height="26" fill="#a89ca6"/>
<rect x="60" y="548.3" width="588" height="1.5" fill="#c9c9c9"/>
<text x="60.5" y="571" text-anchor="middle" font-size="12.5" fill="#222">1500 000</text>
<text x="158.5" y="571" text-anchor="middle" font-size="12.5" fill="#222">1000 000</text>
<text x="256.5" y="571" text-anchor="middle" font-size="12.5" fill="#222">500 000</text>
<text x="355.5" y="571" text-anchor="middle" font-size="12.5" fill="#222">0</text>
<text x="452.5" y="571" text-anchor="middle" font-size="12.5" fill="#222">500 000</text>
<text x="550.5" y="571" text-anchor="middle" font-size="12.5" fill="#222">1000 000</text>
<text x="648.5" y="571" text-anchor="middle" font-size="12.5" fill="#222">1500 000</text>
<rect x="59.5" y="549" width="1" height="4" fill="#cccccc"/>
<rect x="157.5" y="549" width="1" height="4" fill="#cccccc"/>
<rect x="255.5" y="549" width="1" height="4" fill="#cccccc"/>
<rect x="353.5" y="549" width="1" height="4" fill="#cccccc"/>
<rect x="451.5" y="549" width="1" height="4" fill="#cccccc"/>
<rect x="549.5" y="549" width="1" height="4" fill="#cccccc"/>
<rect x="647.5" y="549" width="1" height="4" fill="#cccccc"/>
<text x="47" y="550.98" text-anchor="end" font-size="13" fill="#222">0</text>
<text x="47" y="502.47" text-anchor="end" font-size="13" fill="#222">10</text>
<text x="47" y="453.97" text-anchor="end" font-size="13" fill="#222">20</text>
<text x="47" y="405.48" text-anchor="end" font-size="13" fill="#222">30</text>
<text x="47" y="356.98" text-anchor="end" font-size="13" fill="#222">40</text>
<text x="47" y="308.48" text-anchor="end" font-size="13" fill="#222">50</text>
<text x="47" y="259.98" text-anchor="end" font-size="13" fill="#222">60</text>
<text x="47" y="211.48" text-anchor="end" font-size="13" fill="#222">70</text>
<text x="47" y="162.98" text-anchor="end" font-size="13" fill="#222">80</text>
<text x="47" y="114.48" text-anchor="end" font-size="13" fill="#222">90</text>
<text x="47" y="65.98" text-anchor="end" font-size="13" fill="#222">100+</text>
<rect x="73.5" y="77.80" width="7.5" height="7.5" fill="#afcee5"/>
<text x="84.3" y="84.80" font-size="11.8" fill="#686868" textLength="33.5" lengthAdjust="spacingAndGlyphs">Males</text>
<rect x="73.5" y="99.95" width="7.5" height="7.5" fill="#7f9ac2"/>
<text x="84.3" y="106.95" font-size="11.8" fill="#686868" textLength="71" lengthAdjust="spacingAndGlyphs">Male surplus</text>
<rect x="73.5" y="122.10" width="7.5" height="7.5" fill="#efd5d8"/>
<text x="84.3" y="129.10" font-size="11.8" fill="#686868" textLength="45.5" lengthAdjust="spacingAndGlyphs">Females</text>
<rect x="73.5" y="144.25" width="7.5" height="7.5" fill="#df7b7c"/>
<text x="84.3" y="151.25" font-size="11.8" fill="#686868" textLength="83" lengthAdjust="spacingAndGlyphs">Female surplus</text>
<text x="326.8" y="34.9" font-size="21.5" fill="#111" textLength="58.3" lengthAdjust="spacingAndGlyphs">Russia</text>
<text x="356.5" y="54.4" text-anchor="middle" font-size="11.5" fill="#111">1st of January 2023</text>
<text x="514.5" y="26.3" font-size="9.5" fill="#333" textLength="176" lengthAdjust="spacingAndGlyphs">Source: Rosstat - Federal State Statistics Service</text>
<text x="514.5" y="35.8" font-size="9.5" fill="#333" textLength="77" lengthAdjust="spacingAndGlyphs">Chart by: Kaj Tallungs</text>
<text x="319" y="591.5" font-size="14.5" fill="#222" textLength="69" lengthAdjust="spacingAndGlyphs">Population</text>
<text transform="translate(22.8,304) rotate(-90)" text-anchor="middle" font-size="13.5" fill="#222">Age</text>

<!-- shadows -->
<g filter="url(#soft)" opacity="0.35">
<rect x="184.5" y="411" width="166" height="63" fill="none" stroke="#000" stroke-width="3"/>
<rect x="353.3" y="400.8" width="181" height="75" fill="none" stroke="#000" stroke-width="3"/>
<rect x="93.2" y="336.6" width="261.4" height="72.5" fill="none" stroke="#000" stroke-width="3"/>
</g>
<!-- inner glows -->
<g filter="url(#soft2)">
<path d="M188,470 L188,413.8 L347,413.8" fill="none" stroke="#8c9aa8" stroke-opacity="0.45" stroke-width="3"/>
<rect x="189.5" y="416" width="6" height="54" fill="#ffffff" fill-opacity="0.5"/>
<rect x="356" y="403" width="174" height="68" fill="none" stroke="#b8a8aa" stroke-opacity="0.35" stroke-width="3"/>
<rect x="96" y="338.5" width="255" height="65.5" fill="none" stroke="#b8b8f4" stroke-opacity="0.8" stroke-width="2"/>
</g>
<!-- teal box -->
<rect x="184.6" y="409.9" width="165.4" height="63.3" fill="none" stroke="#2a74a4" stroke-width="3.3"/>
<!-- dark blue box -->
<rect x="92.4" y="335.3" width="261.4" height="72.5" fill="none" stroke="#12129c" stroke-width="3"/>
<!-- red box -->
<rect x="352.6" y="399.3" width="180.8" height="74.9" fill="none" stroke="#c2232a" stroke-width="3"/>
<text class="serif" x="154.2" y="367.1" font-size="19.5" fill="#0a0f1e" textLength="89" lengthAdjust="spacingAndGlyphs">30-40 лвл</text>
<text class="serif" x="203.4" y="460.3" font-size="19.5" fill="#0a0f1e" textLength="88" lengthAdjust="spacingAndGlyphs">20-30 лвл</text>
<text class="serif" x="413.2" y="425.8" font-size="18.8" fill="#111" textLength="117.5" lengthAdjust="spacingAndGlyphs">молодые тян</text>
<text class="serif" x="413.2" y="447.9" font-size="17.8" fill="#111" textLength="52" lengthAdjust="spacingAndGlyphs">16- 32</text>
<text x="399.5" y="508" font-size="17" font-weight="bold" fill="#111" textLength="30" lengthAdjust="spacingAndGlyphs">цпх</text>
<!-- arrows -->
<g filter="url(#halo)">
<line x1="295.5" y1="362.4" x2="387" y2="408.6" stroke="#1410b0" stroke-width="3.1" stroke-linecap="round"/>
<polygon points="404.5,417.8 385.5,400.5 386,408.5 378,412.8" fill="#0808d4" stroke="#0808d4" stroke-width="0.8" stroke-linejoin="round"/>
<line x1="274.5" y1="438" x2="372" y2="438.6" stroke="#7c80ea" stroke-width="3.6" stroke-linecap="round"/>
<polygon points="387.5,439.1 364.8,432.3 370,438.6 367.4,444" fill="#7c80ea" stroke="#7c80ea" stroke-width="0.8" stroke-linejoin="round"/>
</g>
<text x="480" y="447.4" font-size="19.5" font-weight="bold" fill="#111" stroke="#111" stroke-width="0.7" filter="url(#glow)" textLength="159" lengthAdjust="spacingAndGlyphs">- 3 миллиона шлюх</text>
<text x="67.2" y="438.6" font-size="14.5" font-weight="bold" fill="#e05a5a" textLength="103.5" lengthAdjust="spacingAndGlyphs">+ 16 миллионов</text>
<text x="88" y="454.9" font-size="14.5" font-weight="bold" fill="#e05a5a" textLength="69" lengthAdjust="spacingAndGlyphs">мигрантов</text>
<!-- yellow triangle -->
<polygon points="415.6,335 367.5,547 463.5,547" fill="none" stroke="#fcc51c" stroke-width="5.2" stroke-linejoin="miter"/>
</svg>
</body></html>
